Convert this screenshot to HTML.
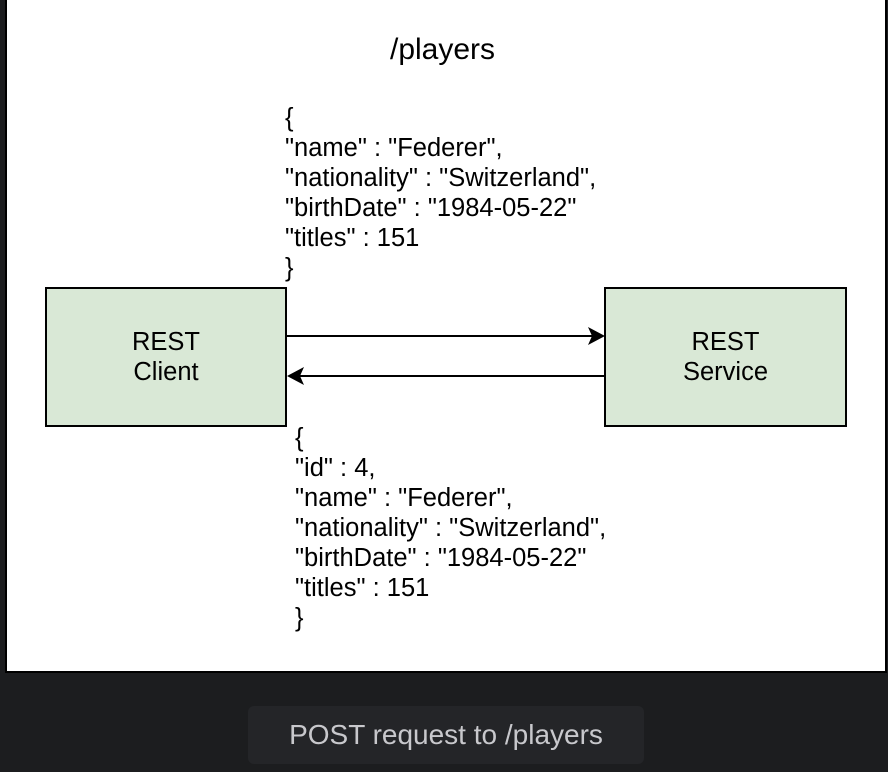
<!DOCTYPE html>
<html><head><style>
body{margin:0;width:888px;height:772px;background:#1c1d1f;position:relative;overflow:hidden;font-family:"Liberation Sans",Arial,sans-serif}
.panel{position:absolute;left:5px;top:-2px;width:882px;height:675px;background:#fff;border:2px solid #000;box-sizing:border-box}
.t{position:absolute;font-size:25.5px;color:#000;white-space:pre;line-height:30px}
.box{position:absolute;background:#d9e8d6;border:2px solid #000;box-sizing:border-box;display:flex;align-items:center;justify-content:center;text-align:center;font-size:25.5px;line-height:30px}
.cap{position:absolute;left:248px;top:706px;width:396px;height:58px;background:#242528;border-radius:6px;color:#c8c8cc;font-size:28px;display:flex;align-items:center;justify-content:center}
</style></head><body>
<div class="panel"></div>
<div class="t" style="left:390px;top:35px;font-size:30px">/players</div>
<div class="t" style="left:285px;top:103px">{
"name" : "Federer",
"nationality" : "Switzerland",
"birthDate" : "1984-05-22"
"titles" : 151
}</div>
<div class="box" style="left:45px;top:287px;width:242px;height:140px">REST<br>Client</div>
<div class="box" style="left:604px;top:287px;width:243px;height:140px">REST<br>Service</div>
<svg style="position:absolute;left:0;top:0" width="888" height="772">
<line x1="287" y1="336" x2="594" y2="336" stroke="#000" stroke-width="2"/>
<polygon points="605,336 588,327 592,336 588,345" fill="#000"/>
<line x1="604" y1="376" x2="298" y2="376" stroke="#000" stroke-width="2"/>
<polygon points="287,376 304,367 300,376 304,385" fill="#000"/>
</svg>
<div class="t" style="left:295px;top:423px">{
"id" : 4,
"name" : "Federer",
"nationality" : "Switzerland",
"birthDate" : "1984-05-22"
"titles" : 151
}</div>
<div class="cap">POST request to /players</div>
</body></html>
